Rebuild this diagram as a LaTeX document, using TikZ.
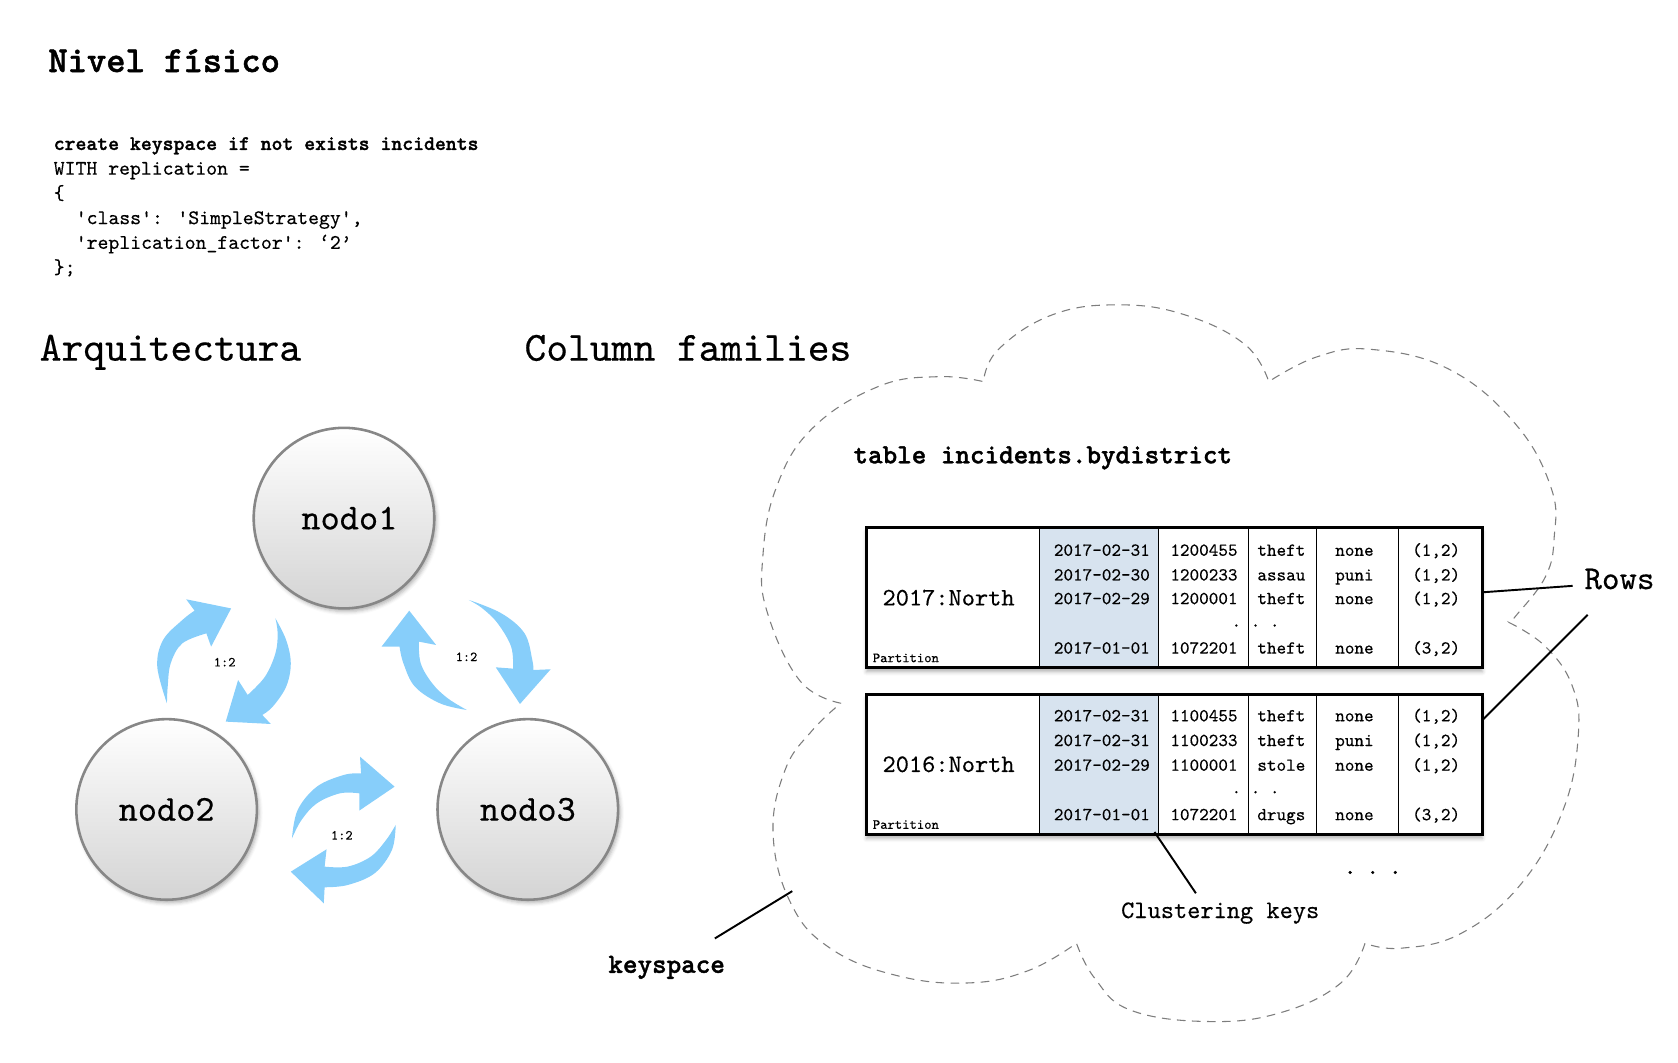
\documentclass[tikz,border=0pt]{standalone}
\usepackage{fontspec}
\newfontfamily\tth{lmmono10-regular.otf}[FakeBold=0.35, Ligatures=TeXOff]
\newfontfamily\ttb{lmmonolt10-bold.otf}[FakeBold=1.3, Ligatures=TeXOff]
\usetikzlibrary{shadows,shadows.blur}
\newcommand{\fsz}[1]{\fontsize{#1pt}{#1pt}\selectfont}
\definecolor{arrblue}{RGB}{135,206,250}
\definecolor{keyblue}{RGB}{215,227,239}
\definecolor{cloudgray}{RGB}{125,125,125}
\definecolor{nodeedge}{RGB}{135,135,135}
\begin{document}
\begin{tikzpicture}[x=0.5pt,y=-0.5pt,
  txt/.style={inner sep=0pt, outer sep=0pt},
  codeline/.style={txt, anchor=base west, font=\tth\fsz{9.65}},
  heading/.style={txt, anchor=base west, font=\tth\fsz{19.3}},
  cell/.style={txt, anchor=base, font=\tth\fsz{8.5}},
  server/.style={circle, minimum size=84pt, inner sep=0pt, draw=nodeedge, line width=1.2pt,
    top color=white, bottom color=black!17, font=\tth\fsz{17},
    blur shadow={shadow xshift=1pt, shadow yshift=-1.5pt, shadow opacity=30}},
  flow/.style={fill=arrblue},
  ratio/.style={txt, font=\tth\fsz{6.4}},
  tblbox/.style={draw=black, line width=1.3pt, fill=white, minimum width=286.5pt,
    minimum height=65pt, inner sep=0pt, outer sep=0pt,
    blur shadow={shadow xshift=0pt, shadow yshift=-2pt, shadow opacity=30}},
  cloudline/.style={draw=cloudgray, line width=0.5pt, dash pattern=on 4pt off 3pt},
  callout/.style={draw=black, line width=0.9pt},
]
\useasboundingbox (0,0) rectangle (1561,988);

% ---------- physical level ----------
\node[txt, anchor=base west, font=\ttb\fsz{17.1}] (title) at (45,67) {Nivel físico};
\node[codeline, font=\ttb\fsz{9.65}] (c1) at (50,139.5) {create keyspace if not exists incidents};
\node[codeline] (c2) at (50,162.5) {WITH replication =};
\node[codeline] (c3) at (50,185.5) {\{};
\node[codeline] (c4) at (70.5,208.5) {'class': 'SimpleStrategy',};
\node[codeline] (c5) at (70.5,231.5) {'replication\_factor': ‘2’};
\node[codeline] (c6) at (50,254.5) {\};};

\node[heading] (arq) at (37,335.5) {Arquitectura};
\node[heading] (colf) at (488,335.5) {Column families};

% ---------- architecture ----------
\node[server] (n1) at (320,482) {\kern5pt nodo1};
\node[server] (n2) at (155,753) {nodo2};
\node[server] (n3) at (491,753) {nodo3};

% arrow A (n2 -> n1)
\fill[flow] plot[smooth,tension=0.6] coordinates {(155.3,654.3) (146.3,620.2) (151.7,595.4) (169.6,576.8) (181,568.1)}
  -- (173.2,557.5) -- (215,566) -- (196.4,601.6)
  -- plot[smooth,tension=0.6] coordinates {(192,589.2) (169.6,598.5) (158.8,617.1) (156,638.8) (155.3,654.3)} -- cycle;
% arrow B (n1 -> n2)
\fill[flow] plot[smooth,tension=0.6] coordinates {(256.2,575.2) (266.2,595.4) (270.5,617.1) (266.2,638.8) (253.7,657.4) (244,665.1)}
  -- (251.9,673.5) -- (210,671.3) -- (221.5,632.6)
  -- plot[smooth,tension=0.6] coordinates {(230.4,646.5) (246.5,629.5) (256.2,607.8) (258.3,589.2) (256.2,575.2)} -- cycle;
% arrow C (n3 -> n1)
\fill[flow] plot[smooth,tension=0.6] coordinates {(434.3,660.5) (409.3,654.3) (386,638.8) (375.3,617.1) (371.7,601.6)}
  -- (354.9,601.6) -- (380.7,568.1) -- (405.7,600)
  -- plot[smooth,tension=0.6] coordinates {(389.6,596.9) (391.4,617.1) (402.1,635.7) (416.5,649.6) (434.3,660.5)} -- cycle;
% arrow D (n1 -> n3)
\fill[flow] plot[smooth,tension=0.6] coordinates {(436.1,558.1) (466.5,570.6) (488,589.2) (495.2,614) (496.2,623.3)}
  -- (512.3,622.6) -- (483.7,654.9) -- (461.2,620.8)
  -- plot[smooth,tension=0.6] coordinates {(477.3,622) (475.5,601.6) (462.9,579.8) (448.7,565.9) (436.1,558.1)} -- cycle;
% arrow E (n2 -> n3)
\fill[flow] plot[smooth,tension=0.6] coordinates {(271.6,779.9) (276.9,753.5) (294.8,731.8) (319.9,720.9) (335.9,719.4)}
  -- (334.9,703.9) -- (367.1,731.8) -- (334.2,754.1)
  -- plot[smooth,tension=0.6] coordinates {(334.2,738) (316.3,738) (294.8,747.3) (280.5,762.8) (271.6,779.9)} -- cycle;
% arrow F (n3 -> n2)
\fill[flow] plot[smooth,tension=0.6] coordinates {(368.1,767.4) (364.6,790.7) (348.5,812.4) (323.4,823.3) (302,825.4)}
  -- (301.2,840.3) -- (270.5,810.9) -- (303.8,790.1)
  -- plot[smooth,tension=0.6] coordinates {(302,806.2) (323.4,806.2) (344.9,796.9) (359.2,781.4) (368.1,767.4)} -- cycle;

\node[ratio] (r12) at (209,616) {1:2};
\node[ratio] (r13) at (434,611) {1:2};
\node[ratio] (r23) at (318,777) {1:2};

% ---------- keyspace cloud ----------
\draw[cloudline]
  plot[smooth,tension=0.7] coordinates {(782.3,654.2) (744.3,633.5) (713.6,569.1) (709.6,518.4) (722,454) (755.5,398.7) (817,359.6) (872.9,350.4) (914.8,355)}
  -- plot[smooth,tension=0.7] coordinates {(914.8,355) (928.8,325) (979.1,292.8) (1040.6,283.6) (1102,292.8) (1158,320.4) (1180.3,355)}
  -- plot[smooth,tension=0.7] coordinates {(1180.3,355) (1225,332) (1275.4,325) (1348,343.5) (1409.5,394.1) (1443,454) (1445.8,500) (1437.5,536.8) (1409.5,573.7) (1404,579.2)}
  -- plot[smooth,tension=0.7] coordinates {(1404,579.2) (1437.5,601.3) (1462.6,638.1) (1468.2,684.2) (1454.2,753.2) (1415,822.3) (1359.2,868.3) (1303.3,882.1) (1269.8,877.5)}
  -- plot[smooth,tension=0.7] coordinates {(1269.8,877.5) (1247.4,914.4) (1191.5,942) (1124.4,950.3) (1051.7,939.7) (1018.2,909.8) (1001.4,877.5)}
  -- plot[smooth,tension=0.7] coordinates {(1001.4,877.5) (956.7,902.9) (900.8,914.4) (833.7,907.4) (772.3,882.1) (735.9,840.7) (719.2,776.2) (730.3,716.4) (755.5,679.6) (782.3,654.2)};

\node[txt, anchor=base west, font=\ttb\fsz{12.9}] (tname) at (794,431) {table incidents.bydistrict};

% ---------- table 1 ----------
\node[tblbox] (t1) at (1092.5,556) {};
\fill[keyblue] (967,491) rectangle (1078,621);
\foreach \cx in {967,1078,1161,1225,1301}
  \draw[line width=0.5pt] (\cx,491) -- (\cx,621);
\draw[line width=1.3pt] (t1.south west) rectangle (t1.north east);
\node[txt, anchor=west, font=\tth\fsz{11.7}] (p1) at (821,556) {2017:North};
\node[txt, anchor=base west, font=\tth\fsz{6.5}] (pl1) at (812,616) {Partition};
\foreach \yy/\va/\vb/\vc/\vd/\ve in {517/2017-02-31/1200455/theft/none/{(1,2)},
    540/2017-02-30/1200233/assau/puni/{(1,2)},
    562/2017-02-29/1200001/theft/none/{(1,2)},
    608/2017-01-01/1072201/theft/none/{(3,2)}}{
  \node[cell] (a\yy) at (1025,\yy) {\va};
  \node[cell] (b\yy) at (1120,\yy) {\vb};
  \node[cell] (c\yy) at (1192,\yy) {\vc};
  \node[cell] (e\yy) at (1260,\yy) {\vd};
  \node[cell] (f\yy) at (1336,\yy) {\ve};
}
\node[cell] (dots1) at (1168,583) {.\ .\ .};

% ---------- table 2 ----------
\node[tblbox] (t2) at (1092.5,711) {};
\fill[keyblue] (967,646) rectangle (1078,776);
\foreach \cx in {967,1078,1161,1225,1301}
  \draw[line width=0.5pt] (\cx,646) -- (\cx,776);
\draw[line width=1.3pt] (t2.south west) rectangle (t2.north east);
\node[txt, anchor=west, font=\tth\fsz{11.7}] (p2) at (821,711) {2016:North};
\node[txt, anchor=base west, font=\tth\fsz{6.5}] (pl2) at (812,771) {Partition};
\foreach \yy/\va/\vb/\vc/\vd/\ve in {671/2017-02-31/1100455/theft/none/{(1,2)},
    694/2017-02-31/1100233/theft/puni/{(1,2)},
    717/2017-02-29/1100001/stole/none/{(1,2)},
    763/2017-01-01/1072201/drugs/none/{(3,2)}}{
  \node[cell] (a\yy) at (1025,\yy) {\va};
  \node[cell] (b\yy) at (1120,\yy) {\vb};
  \node[cell] (c\yy) at (1192,\yy) {\vc};
  \node[cell] (e\yy) at (1260,\yy) {\vd};
  \node[cell] (f\yy) at (1336,\yy) {\ve};
}
\node[cell] (dots2) at (1168,738) {.\ .\ .};

\node[txt, anchor=base, font=\ttb\fsz{10}] (more) at (1277,813) {.\ .\ .};

% ---------- labels and callouts ----------
\node[txt, anchor=base west, font=\tth\fsz{15.5}] (rows) at (1474,548) {Rows};
\node[txt, anchor=base west, font=\tth\fsz{11.7}] (ckeys) at (1043,854) {Clustering keys};
\node[txt, anchor=base west, font=\ttb\fsz{12.9}] (ksp) at (566,905) {keyspace};

\coordinate (rA1) at (1379,551);
\coordinate (rA2) at (1463,545);
\coordinate (rB1) at (1379,670);
\coordinate (rB2) at (1477,572);
\coordinate (ck1) at (1074,774);
\coordinate (ck2) at (1112.5,831);
\coordinate (ks1) at (665,873);
\coordinate (ks2) at (737,829);
\draw[callout] (rA1) -- (rA2);
\draw[callout] (rB1) -- (rB2);
\draw[callout] (ck1) -- (ck2);
\draw[callout] (ks1) -- (ks2);
\end{tikzpicture}
\end{document}
